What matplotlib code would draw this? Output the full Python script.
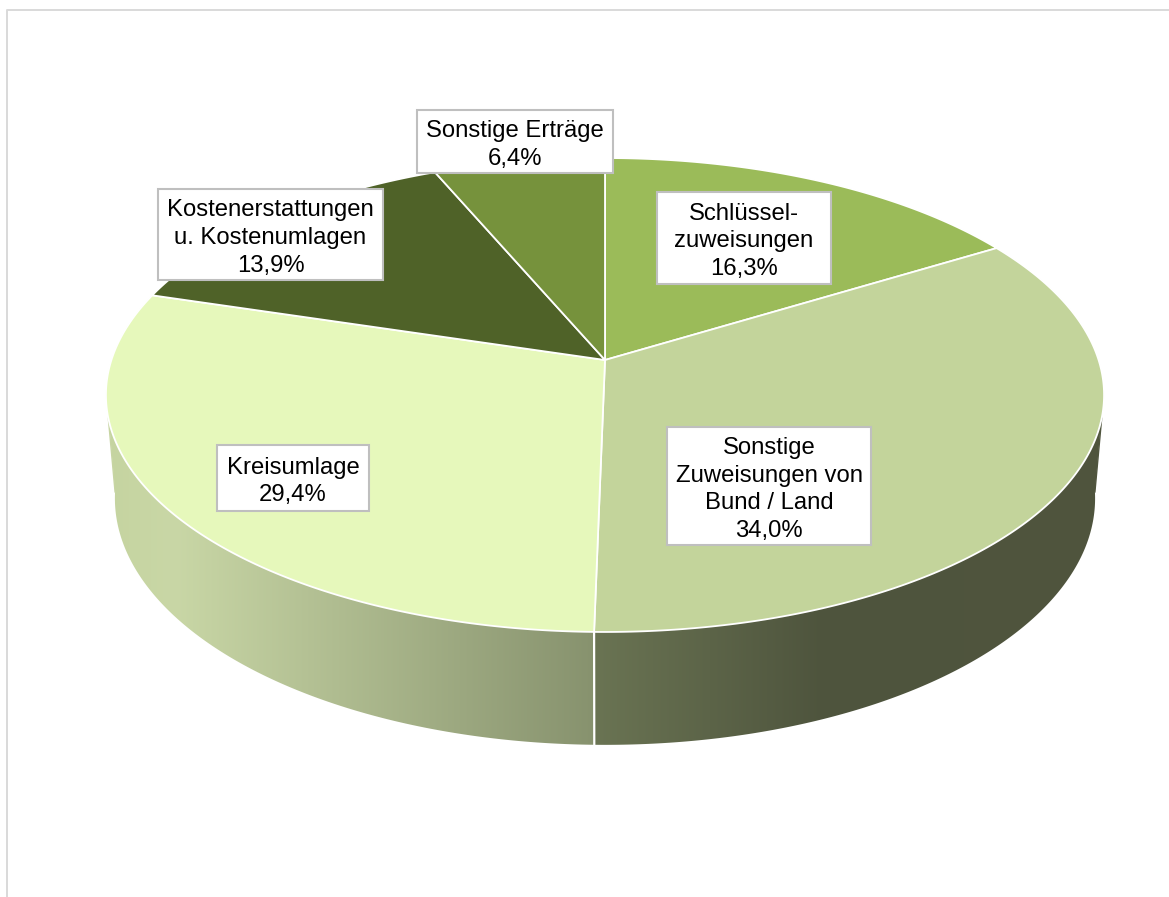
import numpy as np
import matplotlib
matplotlib.use('Agg')
from matplotlib import pyplot as plt
from matplotlib.colors import LinearSegmentedColormap
from matplotlib.patches import Polygon, Rectangle

plt.rcParams['font.family'] = ['Liberation Sans', 'DejaVu Sans']

categories = ['Schlüssel-\nzuweisungen', 'Sonstige\nZuweisungen von\nBund / Land', 'Kreisumlage',
              'Kostenerstattungen\nu. Kostenumlagen', 'Sonstige Erträge']
values = [16.3, 34.0, 29.4, 13.9, 6.4]
colors = ['#9BBB59', '#C3D49B', '#E6F8BB', '#4F6228', '#76923C']

# label boxes in pixels: left, top, right, bottom
label_boxes = [(657, 192, 831, 284), (667, 427, 871, 545), (217, 445, 369, 511),
               (158, 189, 383, 280), (417, 110, 613, 173)]

# pie geometry in pixels
CX, CY = 605, 360
PERSP = 0.1477
RX, RY = 493.6, 231.8
LOW_Y, LOW_XS, LOW_YS = 462, 0.982, 1.04


def project(theta, lower=False):
    """ clockwise degrees from the top -> pixel position on the top or lower rim """
    t = np.radians(theta)
    u, v = np.sin(t), np.cos(t)
    w = 1 + PERSP * v
    x, y = RX * u / w, -RY * v / w
    if lower:
        return CX + LOW_XS * x, LOW_Y + LOW_YS * y
    return CX + x, CY + y


def gradient_side(ax, t0, t1, stops, x0, x1):
    """ side wall between two angles, filled with a horizontal gradient """
    th = np.linspace(t0, t1, 200)
    lx, ly = project(th, lower=True)
    ux, uy = project(th[::-1])
    poly = Polygon(np.column_stack([np.r_[lx, ux], np.r_[ly, uy]]), closed=True, fc='none', ec='none')
    ax.add_patch(poly)
    cmap = LinearSegmentedColormap.from_list('side', stops)
    im = ax.imshow(np.linspace(0, 1, 256).reshape(1, -1), cmap=cmap, extent=(x0, x1, 760, 380),
                   aspect='auto', zorder=1, interpolation='bilinear')
    im.set_clip_path(poly)


fig = plt.figure(figsize=(11.69, 8.97), dpi=100)
ax = fig.add_axes([0, 0, 1, 1])
ax.axis('off')

edges = np.r_[0, np.cumsum(values)] * 3.6
front = edges[2]  # boundary Zuweisungen / Kreisumlage

# side walls
gradient_side(ax, 97, front, [(0, '#6A7453'), (0.45, '#4E543D'), (1, '#50553E')], 595, 1105)
gradient_side(ax, front, 263, [(0, '#C5D4A0'), (0.14, '#C9D7A6'), (1, '#87926E')], 105, 595)

# left and right upright edge of the wall
for t_top, t_low in [(104, 97), (256, 263)]:
    xs, ys = zip(project(t_top), project(t_low, lower=True))
    side_color = '#50553E' if t_top < 180 else '#C7D5A3'
    ax.plot(xs, ys, color=side_color, lw=1, zorder=1)

# white seam on the wall
fx, fy = project(front)
lx, ly = project(front, lower=True)
ax.plot([fx, lx], [fy, ly], color='white', lw=1.6, zorder=2)

# top face
for start, end, col in zip(edges[:-1], edges[1:], colors):
    th = np.linspace(start, end, 200)
    x, y = project(th)
    ax.add_patch(Polygon(np.column_stack([np.r_[CX, x], np.r_[CY, y]]), closed=True,
                         fc=col, ec='white', lw=1.3, joinstyle='round', zorder=3))

# labels
for cat, val, (left, top, right, bottom) in zip(categories, values, label_boxes):
    ax.add_patch(Rectangle((left, top), right - left, bottom - top, fc='white', ec='#BFBFBF', lw=1.5, zorder=4))
    pct = '{:.1f}%'.format(val).replace('.', ',')
    ax.text((left + right) / 2, (top + bottom) / 2 + 3.5, cat + '\n' + pct, ha='center', va='center', ma='center',
            fontsize=17.2, color='black', linespacing=1.33, zorder=5)

# chart frame, only top and left are inside the picture
ax.plot([6.8, 6.8, 1169], [897, 9.7, 9.7], color='#D9D9D9', lw=1.4, zorder=0)

ax.set_xlim(0, 1169)
ax.set_ylim(897, 0)
fig.savefig('out.png', dpi=100, facecolor='white')
